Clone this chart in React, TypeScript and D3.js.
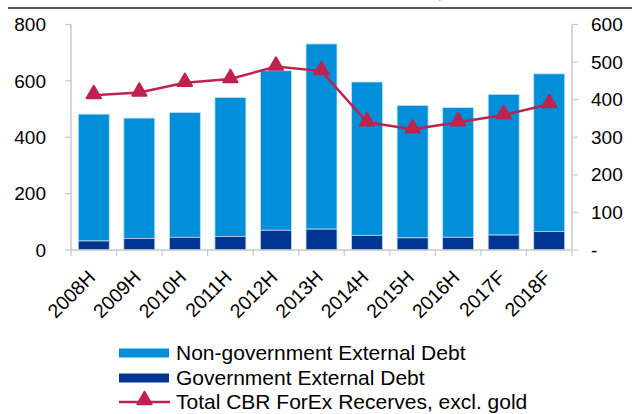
import React from "react";
import * as d3 from "d3";

const categories = ["2008H", "2009H", "2010H", "2011H", "2012H", "2013H", "2014H", "2015H", "2016H", "2017F", "2018F"];
const totalDebt = [482, 468, 488, 541, 636, 731, 596, 513, 505, 552, 625];
const govDebt = [32, 41, 45, 48, 70, 74, 52, 43, 45, 53, 66];
const reserves = [412, 419, 445, 455, 488, 476, 340, 321, 340, 359, 388];
const leftTicks = [0, 200, 400, 600, 800];
const rightTicks = [0, 100, 200, 300, 400, 500, 600];
const legendLabels = ["Non-government External Debt", "Government External Debt", "Total CBR ForEx Recerves, excl. gold"];
const title = "Russia: External Debt and Total CBR ForEx Reserves, US$ bn";

const W = 632, H = 414;
const L = 71, R = 572, T = 24.5, B = 250;
const LIGHT = "#008fd8";
const DARK = "#003591";
const RED = "#c0224f";
const AXIS = "#c8c8c8";
const FONT = "'Liberation Sans', Arial, sans-serif";

export default function App() {
  const x = d3.scaleBand<string>().domain(categories).range([L, R]).paddingInner(0.32).paddingOuter(0.16);
  const yL = d3.scaleLinear().domain([0, 800]).range([B, T]);
  const yR = d3.scaleLinear().domain([0, 600]).range([B, T]);
  const bw = x.bandwidth();
  const step = x.step();
  const cx = (c: string) => (x(c) as number) + bw / 2;
  const line = d3.line<number>().x((_, i) => cx(categories[i])).y((v) => yR(v));
  const tri = d3.symbol().type(d3.symbolTriangle).size(90)();

  return (
    <svg width={W} height={H} style={{ position: "absolute", left: 0, top: 0 }} fontFamily={FONT}>
      <text x={8} y={-2} fontSize={17} fontWeight="bold" fill="#595959">{title}</text>
      <line x1={8} x2={W} y1={8} y2={8} stroke="#595959" strokeWidth={2} />

      {/* bars */}
      {categories.map((c, i) => (
        <g key={c}>
          <rect x={x(c)} y={yL(totalDebt[i])} width={bw} height={yL(govDebt[i]) - yL(totalDebt[i])}
            fill={LIGHT} stroke="#bfe2f6" strokeWidth={0.8} />
          <rect x={x(c)} y={yL(govDebt[i])} width={bw} height={B - yL(govDebt[i])}
            fill={DARK} stroke="#c8d6ee" strokeWidth={0.8} />
        </g>
      ))}

      {/* axes */}
      <line x1={L} x2={L} y1={T} y2={B} stroke={AXIS} strokeWidth={1.5} />
      <line x1={R} x2={R} y1={T} y2={B} stroke={AXIS} strokeWidth={1.5} />
      <line x1={L} x2={R} y1={B} y2={B} stroke={AXIS} strokeWidth={1.5} />
      {leftTicks.map((t) => (
        <g key={"l" + t}>
          <line x1={L - 6} x2={L} y1={yL(t)} y2={yL(t)} stroke={AXIS} strokeWidth={1.2} />
          <text x={46} y={yL(t)} dy="0.35em" textAnchor="end" fontSize={19} fill="#000">{t}</text>
        </g>
      ))}
      {rightTicks.map((t) => (
        <g key={"r" + t}>
          <line x1={R} x2={R + 6} y1={yR(t)} y2={yR(t)} stroke={AXIS} strokeWidth={1.2} />
          <text x={591} y={yR(t)} dy="0.35em" textAnchor="start" fontSize={19} fill="#000">{t === 0 ? "-" : t}</text>
        </g>
      ))}
      {d3.range(categories.length + 1).map((i) => {
        const xx = L + i * step;
        return <line key={"xt" + i} x1={xx} x2={xx} y1={B} y2={B + 6} stroke={AXIS} strokeWidth={1.2} />;
      })}
      {categories.map((c) => (
        <text key={"xl" + c} transform={`translate(${cx(c) - 7},${B + 19}) rotate(-45)`} textAnchor="end"
          dy="0.7em" fontSize={19.5} fill="#000">{c}</text>
      ))}

      {/* line */}
      <path d={line(reserves) || ""} fill="none" stroke={RED} strokeWidth={2.5} />
      {reserves.map((v, i) => (
        <path key={"m" + i} d={tri || ""} transform={`translate(${cx(categories[i])},${yR(v) - 1})`} fill={RED}
          stroke={RED} strokeWidth={2} strokeLinejoin="round" />
      ))}

      {/* legend */}
      <rect x={119} y={348.5} width={50} height={9} fill={LIGHT} />
      <text x={176} y={353} dy="0.35em" fontSize={21} fill="#000">{legendLabels[0]}</text>
      <rect x={119} y={373.5} width={50} height={9} fill={DARK} />
      <text x={176} y={378} dy="0.35em" fontSize={21} fill="#000">{legendLabels[1]}</text>
      <line x1={119} x2={170} y1={402} y2={402} stroke={RED} strokeWidth={2.5} />
      <path d={tri || ""} transform="translate(144.5,400)" fill={RED} stroke={RED} strokeWidth={2} strokeLinejoin="round" />
      <text x={176} y={402} dy="0.35em" fontSize={21} fill="#000">{legendLabels[2]}</text>
    </svg>
  );
}
